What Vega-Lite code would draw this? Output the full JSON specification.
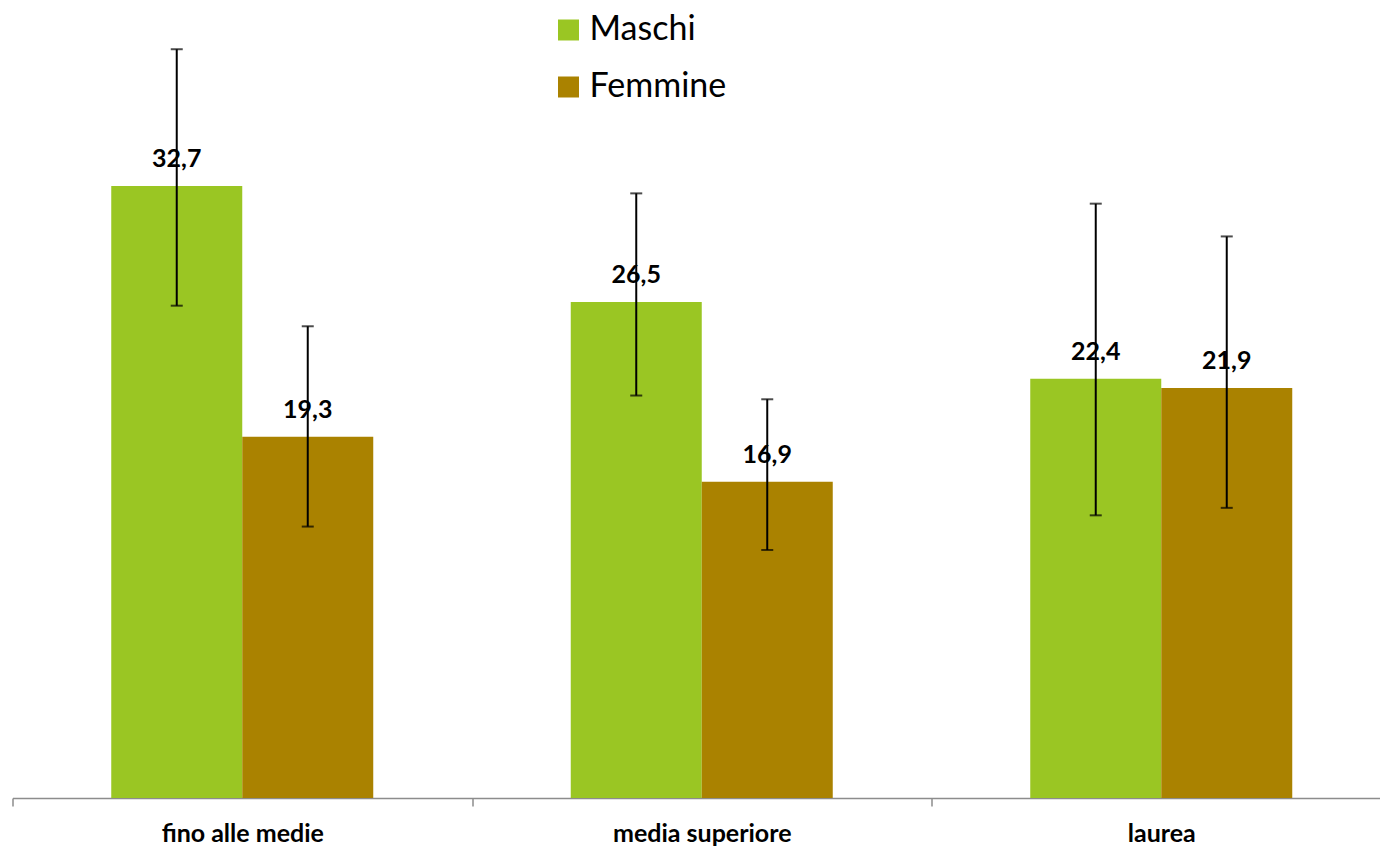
{
  "$schema": "https://vega.github.io/schema/vega-lite/v6.json",
  "width": 1367.5,
  "height": 798,
  "autosize": {"type": "none"},
  "padding": {"left": 12.5, "top": 0, "right": 0, "bottom": 48},
  "background": "white",
  "config": {
    "view": {"stroke": null},
    "locale": {"number": {"decimal": ",", "thousands": ".", "grouping": [3], "currency": ["€", ""]}},
    "font": "Lato"
  },
  "data": {
    "values": [
      {"livello": "fino alle medie", "sesso": "Maschi", "valore": 32.7, "lo": 26.3, "hi": 40.0},
      {"livello": "fino alle medie", "sesso": "Femmine", "valore": 19.3, "lo": 14.5, "hi": 25.2},
      {"livello": "media superiore", "sesso": "Maschi", "valore": 26.5, "lo": 21.5, "hi": 32.3},
      {"livello": "media superiore", "sesso": "Femmine", "valore": 16.9, "lo": 13.25, "hi": 21.3},
      {"livello": "laurea", "sesso": "Maschi", "valore": 22.4, "lo": 15.1, "hi": 31.75},
      {"livello": "laurea", "sesso": "Femmine", "valore": 21.9, "lo": 15.5, "hi": 30.0}
    ]
  },
  "encoding": {
    "x": {
      "field": "livello",
      "type": "nominal",
      "sort": ["fino alle medie", "media superiore", "laurea"],
      "scale": {"range": [0, 1378.5], "paddingInner": 0, "paddingOuter": 0},
      "axis": {
        "title": null,
        "labelAngle": 0,
        "labelFont": "Lato",
        "labelFontWeight": "bold",
        "labelFontSize": 25,
        "labelColor": "black",
        "labelPadding": 15,
        "domainColor": "#8c8c8c",
        "domainWidth": 1.5,
        "tickColor": "#8c8c8c",
        "tickWidth": 1.5,
        "tickSize": 8,
        "tickBand": "extent"
      }
    },
    "xOffset": {"field": "sesso", "type": "nominal", "sort": ["Maschi", "Femmine"], "scale": {"paddingInner": 0, "paddingOuter": 0.7538}}
  },
  "layer": [
    {
      "mark": {"type": "bar"},
      "encoding": {
        "y": {"field": "valore", "type": "quantitative", "scale": {"domain": [0, 42.63], "nice": false, "zero": true}, "axis": null},
        "color": {
          "field": "sesso",
          "type": "nominal",
          "sort": ["Maschi", "Femmine"],
          "scale": {"domain": ["Maschi", "Femmine"], "range": ["#9AC623", "#AA8200"]},
          "legend": {
            "title": null,
            "orient": "none",
            "legendX": 539,
            "legendY": 13,
            "symbolType": "square",
            "symbolSize": 441,
            "symbolStrokeWidth": 0,
            "symbolOpacity": 1,
            "labelFont": "Lato",
            "labelFontSize": 34,
            "labelColor": "black",
            "labelOffset": 4,
            "rowPadding": 23,
            "padding": 0
          }
        }
      }
    },
    {
      "mark": {"type": "text", "baseline": "alphabetic", "dy": -19, "fontSize": 25, "fontWeight": "bold", "font": "Lato", "color": "black"},
      "encoding": {
        "y": {"field": "valore", "type": "quantitative"},
        "text": {"field": "valore", "type": "quantitative", "format": ".1f"}
      }
    },
    {
      "mark": {"type": "rule", "color": "black", "strokeWidth": 2},
      "encoding": {
        "y": {"field": "lo", "type": "quantitative"},
        "y2": {"field": "hi"}
      }
    },
    {
      "mark": {"type": "tick", "color": "black", "size": 12, "thickness": 2},
      "encoding": {"y": {"field": "lo", "type": "quantitative"}}
    },
    {
      "mark": {"type": "tick", "color": "black", "size": 12, "thickness": 2},
      "encoding": {"y": {"field": "hi", "type": "quantitative"}}
    }
  ]
}
